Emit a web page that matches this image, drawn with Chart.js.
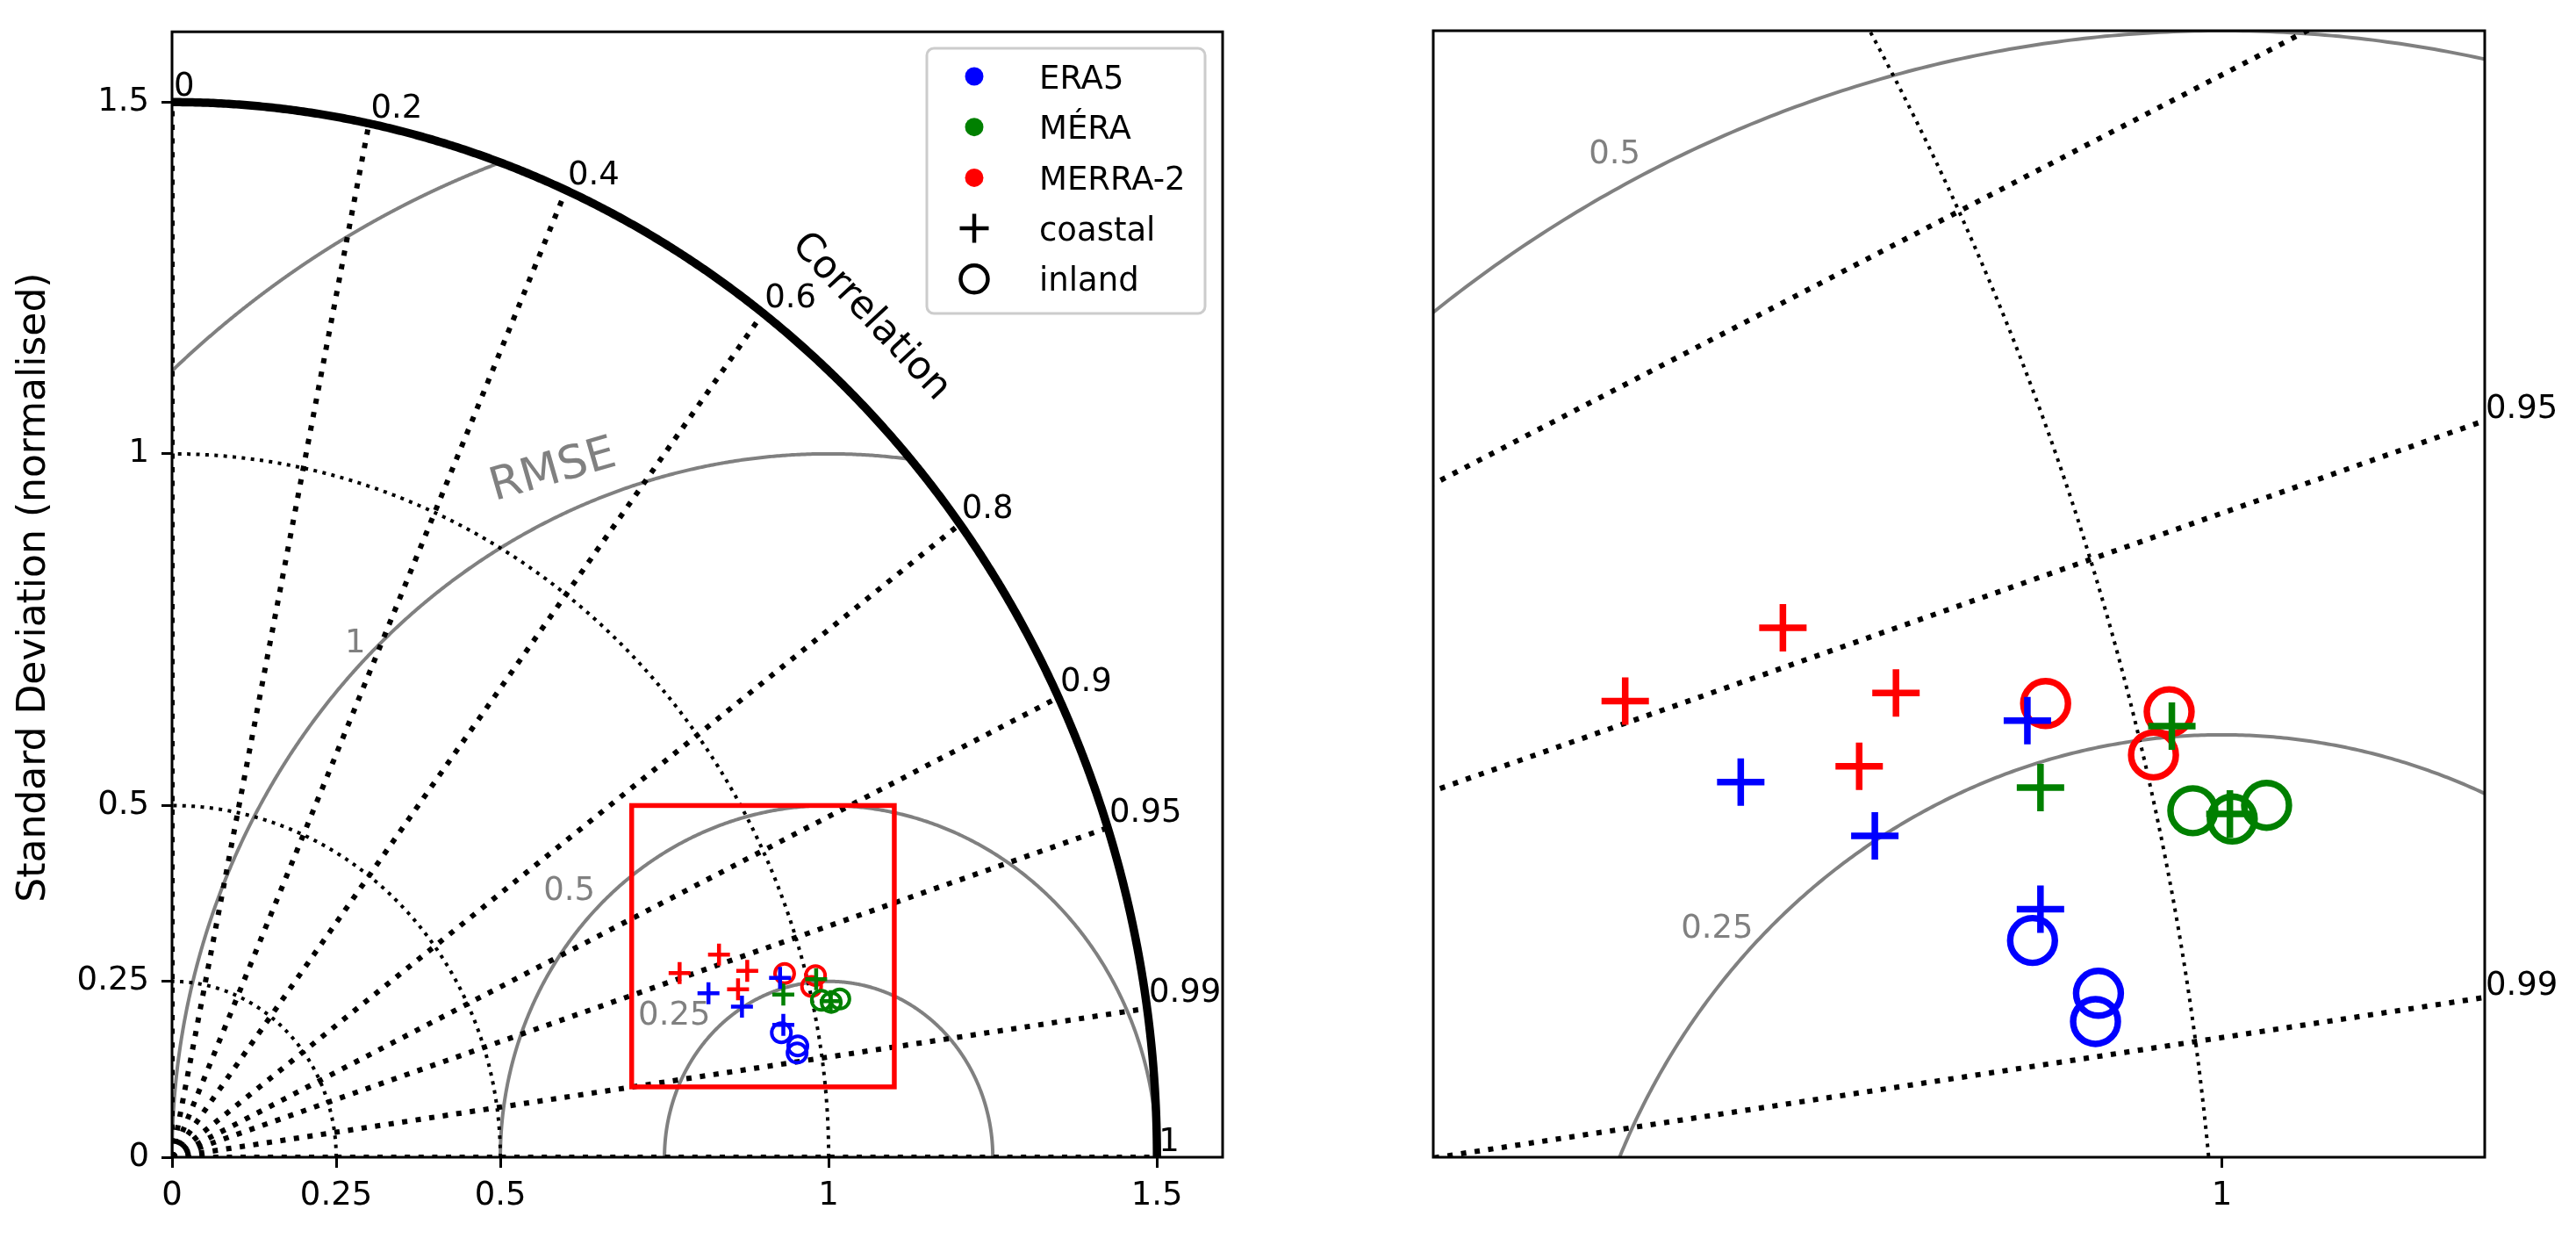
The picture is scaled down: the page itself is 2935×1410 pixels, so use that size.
<!DOCTYPE html>
<html><head><meta charset="utf-8">
<script src="https://cdn.jsdelivr.net/npm/chart.js@4.4.0/dist/chart.umd.min.js"></script>
<style>
html,body{margin:0;padding:0;background:#fff;width:2935px;height:1410px;overflow:hidden}
canvas{position:absolute;top:0}
#c1{left:0}
#c2{left:1500px}
</style></head><body>
<canvas id="c1" width="1500" height="1410" style="width:1500px;height:1410px"></canvas>
<canvas id="c2" width="1435" height="1410" style="width:1435px;height:1410px"></canvas>
<script>
// ---------------- data (normalised standard deviation and correlation) ----------------
const sourceNames = ['ERA5', 'MÉRA', 'MERRA-2'];
const locationNames = ['coastal', 'inland'];

const era5CoastalStd   = [0.8496, 0.8940, 0.9605, 0.9498];
const era5CoastalCorr  = [0.9616, 0.9709, 0.9641, 0.9802];
const era5InlandStd    = [0.9447, 0.9661, 0.9634];
const era5InlandCorr   = [0.9823, 0.9865, 0.9881];

const meraCoastalStd   = [0.9593, 1.0131, 1.0273];
const meraCoastalCorr  = [0.9705, 0.9683, 0.9764];
const meraInlandStd    = [1.0138, 1.0278, 1.0416];
const meraInlandCorr   = [0.9755, 0.9768, 0.9764];

const merraCoastalStd  = [0.8162, 0.8814, 0.9152, 0.8945];
const merraCoastalCorr = [0.9471, 0.9451, 0.9572, 0.9637];
const merraInlandStd   = [0.9688, 1.0134, 1.0038];
const merraInlandCorr  = [0.9630, 0.9670, 0.9703];

// diagram structure
const corrTicks      = [0, 0.2, 0.4, 0.6, 0.8, 0.9, 0.95, 0.99, 1];
const corrTickLabels = ['0', '0.2', '0.4', '0.6', '0.8', '0.9', '0.95', '0.99', '1'];
const stdArcs        = [0.25, 0.5, 1];
const stdMax         = 1.5;
const rmseArcs       = [0.25, 0.5, 1, 1.5];
const axisTicks      = [0, 0.25, 0.5, 1, 1.5];
const zoomXTicks     = [1];
const zoomBox        = [0.7, 1.1, 0.1, 0.5];   // xmin, xmax, ymin, ymax of the zoomed panel

// ---------------- styles ----------------
const FONT = '"DejaVu Sans", "Liberation Sans", sans-serif';
Chart.defaults.font.family = FONT;
Chart.defaults.color = '#000';
const sourceColors = ['#0000ff', '#008000', '#ff0000'];
const GREY = '#808080';

// label placements (data coordinates) for the RMSE labels
const rmseLabelMain = [
  {t: '0.25', x: 0.765, y: 0.205}, {t: '0.5', x: 0.605, y: 0.382}, {t: '1', x: 0.279, y: 0.734}
];
const rmseLabelZoom = [
  {t: '0.25', x: 0.808, y: 0.182}, {t: '0.5', x: 0.769, y: 0.457}
];

const series = [
  {name: sourceNames[0], color: sourceColors[0], cs: era5CoastalStd,  cc: era5CoastalCorr,  is: era5InlandStd,  ic: era5InlandCorr},
  {name: sourceNames[1], color: sourceColors[1], cs: meraCoastalStd,  cc: meraCoastalCorr,  is: meraInlandStd,  ic: meraInlandCorr},
  {name: sourceNames[2], color: sourceColors[2], cs: merraCoastalStd, cc: merraCoastalCorr, is: merraInlandStd, ic: merraInlandCorr}
];

function toXY(stds, corrs) {
  return stds.map((s, i) => ({x: s * corrs[i], y: s * Math.sqrt(1 - corrs[i] * corrs[i])}));
}

function makeDatasets(big) {
  const cr = big ? 27 : 12.5, cw = big ? 7.5 : 4.5;
  const orr = big ? 25.5 : 11, ow = big ? 7.4 : 4;
  const ds = [];
  series.forEach(s => {
    ds.push({label: s.name + ' ' + locationNames[0], data: toXY(s.cs, s.cc), showLine: false,
      pointStyle: 'cross', pointRadius: cr, pointBorderWidth: cw,
      pointBorderColor: s.color, pointBackgroundColor: s.color, order: 0});
  });
  series.forEach(s => {
    ds.push({label: s.name + ' ' + locationNames[1], data: toXY(s.is, s.ic), showLine: false,
      pointStyle: 'circle', pointRadius: orr, pointBorderWidth: ow,
      pointBorderColor: s.color, pointBackgroundColor: 'rgba(0,0,0,0)', order: 1});
  });
  return ds;
}

function drawText(ctx, t, x, y, size, color, align, rot, baseline) {
  ctx.save();
  ctx.font = size + 'px ' + FONT;
  ctx.fillStyle = color;
  ctx.translate(x, y);
  if (rot) ctx.rotate(rot);
  ctx.textAlign = align || 'center';
  ctx.textBaseline = baseline || 'alphabetic';
  ctx.fillText(t, 0, 0);
  ctx.restore();
}

function diagramPlugin(isMain) {
  return {
    id: 'taylor' + (isMain ? 'Main' : 'Zoom'),
    beforeDatasetsDraw(chart) {
      const {ctx, chartArea: a, scales} = chart;
      const P = (x, y) => [scales.x.getPixelForValue(x), scales.y.getPixelForValue(y)];
      ctx.save();
      ctx.beginPath(); ctx.rect(a.left, a.top, a.right - a.left, a.bottom - a.top); ctx.clip();
      ctx.lineCap = 'butt'; ctx.lineJoin = 'round';
      // RMSE arcs centred on the reference point (1, 0)
      ctx.strokeStyle = GREY; ctx.lineWidth = 4; ctx.setLineDash([]);
      rmseArcs.forEach(R => {
        const p0 = Math.acos(Math.min(1, (stdMax * stdMax - 1 - R * R) / (2 * R)));
        const p1 = Math.acos(Math.max(-1, -1 / R));
        ctx.beginPath();
        for (let i = 0; i <= 600; i++) {
          const p = p0 + (p1 - p0) * i / 600;
          const [X, Y] = P(1 + R * Math.cos(p), R * Math.sin(p));
          if (i) ctx.lineTo(X, Y); else ctx.moveTo(X, Y);
        }
        ctx.stroke();
      });
      // standard deviation arcs (dotted)
      ctx.strokeStyle = '#000'; ctx.lineWidth = 4; ctx.setLineDash([4, 6.4]);
      stdArcs.forEach(r => {
        ctx.beginPath();
        for (let i = 0; i <= 600; i++) {
          const t = Math.PI / 2 * i / 600;
          const [X, Y] = P(r * Math.cos(t), r * Math.sin(t));
          if (i) ctx.lineTo(X, Y); else ctx.moveTo(X, Y);
        }
        ctx.stroke();
      });
      // correlation rays (dotted)
      ctx.lineWidth = 6; ctx.setLineDash([6, 9.6]);
      corrTicks.forEach(c => {
        const s = Math.sqrt(1 - c * c);
        const [X0, Y0] = P(0, 0), [X1, Y1] = P(stdMax * c, stdMax * s);
        ctx.beginPath(); ctx.moveTo(X0, Y0); ctx.lineTo(X1, Y1); ctx.stroke();
      });
      // outer standard deviation arc
      ctx.setLineDash([]); ctx.lineWidth = 9.5; ctx.lineCap = 'butt';
      ctx.beginPath();
      for (let i = 0; i <= 600; i++) {
        const t = Math.PI / 2 * i / 600;
        const [X, Y] = P(stdMax * Math.cos(t), stdMax * Math.sin(t));
        if (i) ctx.lineTo(X, Y); else ctx.moveTo(X, Y);
      }
      ctx.stroke();
      ctx.restore();
    },
    afterDatasetsDraw(chart) {
      const {ctx, chartArea: a, scales} = chart;
      const P = (x, y) => [scales.x.getPixelForValue(x), scales.y.getPixelForValue(y)];
      ctx.save();
      if (isMain) {
        // zoom box
        const [bx0, by0] = P(zoomBox[0], zoomBox[3]), [bx1, by1] = P(zoomBox[1], zoomBox[2]);
        ctx.strokeStyle = '#ff0000'; ctx.lineWidth = 5.5; ctx.lineJoin = 'miter';
        ctx.strokeRect(bx0, by0, bx1 - bx0, by1 - by0);
        rmseLabelMain.forEach(l => { const [X, Y] = P(l.x, l.y); drawText(ctx, l.t, X, Y + 13.5, 37, GREY, 'center'); });
        drawText(ctx, 'RMSE', 634, 533 + 17, 52, GREY, 'center', -16 * Math.PI / 180);
        drawText(ctx, 'Correlation', 992, 361, 44, '#000', 'center', 47 * Math.PI / 180, 'middle');
        corrTicks.forEach((c, i) => {
          const [X, Y] = P(stdMax * c, stdMax * Math.sqrt(1 - c * c));
          drawText(ctx, corrTickLabels[i], X + 2, Y - 7, 37, '#000', 'left');
        });
        // y-axis title
        drawText(ctx, 'Standard Deviation (normalised)', 40, (a.top + a.bottom) / 2 - 8, 44, '#000', 'center', -Math.PI / 2, 'middle');
      } else {
        ctx.save();
        ctx.beginPath(); ctx.rect(a.left, a.top, a.right - a.left, a.bottom - a.top); ctx.clip();
        rmseLabelZoom.forEach(l => { const [X, Y] = P(l.x, l.y); drawText(ctx, l.t, X, Y + 13.5, 37, GREY, 'center'); });
        ctx.restore();
        const xr = scales.x.max;
        corrTicks.forEach((c, i) => {
          if (c <= 0 || c >= 1) return;
          const yr = xr * Math.sqrt(1 - c * c) / c;
          if (yr < scales.y.min || yr > scales.y.max) return;
          const [X, Y] = P(xr, yr);
          drawText(ctx, corrTickLabels[i], X + 1, Y - 3, 37, '#000', 'left');
        });
      }
      // frame
      ctx.strokeStyle = '#000'; ctx.lineWidth = 3; ctx.setLineDash([]); ctx.lineJoin = 'miter';
      ctx.strokeRect(a.left, a.top, a.right - a.left, a.bottom - a.top);
      ctx.restore();
    },
    afterDraw(chart) {
      if (!isMain) return;
      const ctx = chart.ctx;
      ctx.save();
      // legend
      const lx = 1056, ly = 55, lw = 317, lh = 302;
      ctx.beginPath(); ctx.roundRect(lx, ly, lw, lh, 8);
      ctx.fillStyle = 'rgba(255,255,255,0.8)'; ctx.fill();
      ctx.strokeStyle = '#cccccc'; ctx.lineWidth = 3; ctx.stroke();
      const rows = [
        {t: sourceNames[0], k: 'dot', c: sourceColors[0]},
        {t: sourceNames[1], k: 'dot', c: sourceColors[1]},
        {t: sourceNames[2], k: 'dot', c: sourceColors[2]},
        {t: locationNames[0], k: 'plus', c: '#000'},
        {t: locationNames[1], k: 'ring', c: '#000'}
      ];
      rows.forEach((r, i) => {
        const cy = 87 + i * 57.7, mx = 1110;
        ctx.fillStyle = r.c; ctx.strokeStyle = r.c;
        if (r.k === 'dot') { ctx.beginPath(); ctx.arc(mx, cy, 10.5, 0, Math.PI * 2); ctx.fill(); }
        else if (r.k === 'plus') {
          ctx.lineWidth = 4.5; ctx.beginPath();
          ctx.moveTo(mx - 16.5, cy); ctx.lineTo(mx + 16.5, cy); ctx.moveTo(mx, cy - 16.5); ctx.lineTo(mx, cy + 16.5); ctx.stroke();
        } else { ctx.lineWidth = 4.5; ctx.beginPath(); ctx.arc(mx, cy, 15.5, 0, Math.PI * 2); ctx.stroke(); }
        drawText(ctx, r.t, 1184, cy + 13.5, 37, '#000', 'left');
      });
      ctx.restore();
    }
  };
}

function tickScale(ticksArr, min, max, opts) {
  return Object.assign({
    type: 'linear', min: min, max: max,
    afterBuildTicks: s => { s.ticks = ticksArr.map(v => ({value: v})); },
    ticks: {font: {size: 37}, color: '#000', padding: 10, autoSkip: false, maxRotation: 0, callback: v => String(v)},
    grid: {display: true, drawOnChartArea: false, drawTicks: true, tickLength: 12, tickWidth: 3, tickColor: '#000'},
    border: {display: false}
  }, opts || {});
}

new Chart(document.getElementById('c1'), {
  type: 'scatter',
  data: {datasets: makeDatasets(false)},
  options: {
    responsive: false, animation: false, devicePixelRatio: 1, events: [],
    layout: {padding: {left: 0, right: 107, top: 35, bottom: 0}},
    plugins: {legend: {display: false}, tooltip: {enabled: false}},
    scales: {
      x: tickScale(axisTicks, 0, 1.6, {afterFit: s => { s.height = 92; }}),
      y: Object.assign(tickScale(axisTicks, 0, 1.6, {afterFit: s => { s.width = 196; }}), {
        ticks: {font: {size: 37}, color: '#000', padding: 14, autoSkip: false, callback: v => String(v)}
      })
    }
  },
  plugins: [diagramPlugin(true)]
});

new Chart(document.getElementById('c2'), {
  type: 'scatter',
  data: {datasets: makeDatasets(true)},
  options: {
    responsive: false, animation: false, devicePixelRatio: 1, events: [],
    layout: {padding: {left: 133, right: 104, top: 35, bottom: 0}},
    plugins: {legend: {display: false}, tooltip: {enabled: false}},
    scales: {
      x: tickScale(zoomXTicks, zoomBox[0], zoomBox[1], {afterFit: s => { s.height = 92; }}),
      y: {type: 'linear', min: zoomBox[2], max: zoomBox[3], display: false}
    }
  },
  plugins: [diagramPlugin(false)]
});
</script>
</body></html>
